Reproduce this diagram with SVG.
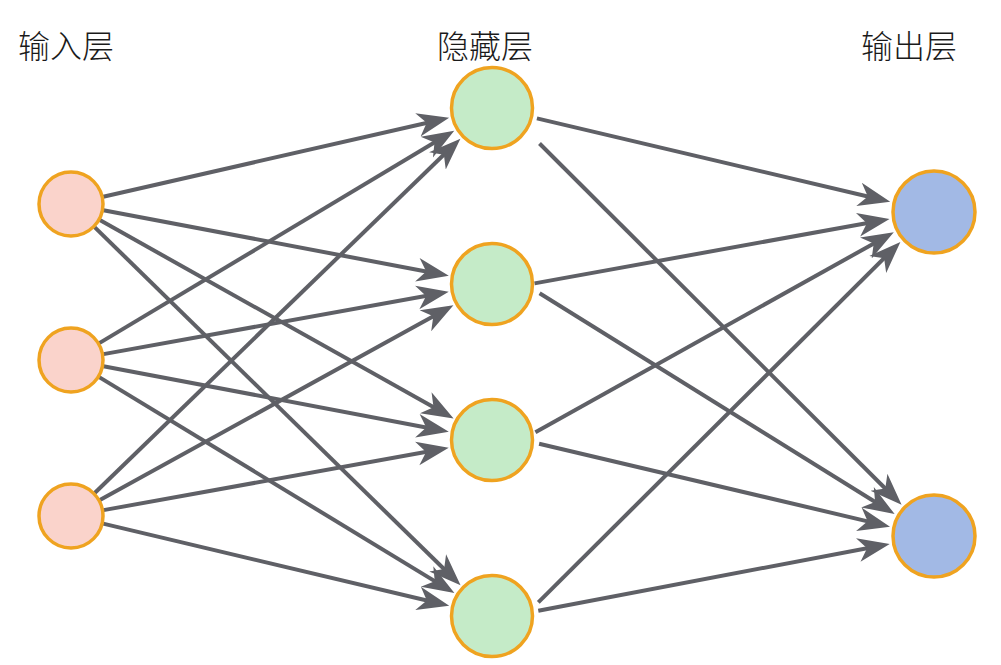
<svg xmlns="http://www.w3.org/2000/svg" width="1001" height="665" viewBox="0 0 1001 665">
<style>
.lbl{font-family:"Noto Sans CJK SC","Noto Sans",sans-serif;font-size:32px;font-weight:300;fill:#1a1a1a;}
.n{stroke:#EFA320;stroke-width:3.5;}
.in{fill:#FAD3CB;}
.hid{fill:#C5EBC8;}
.out{fill:#A2B9E5;}
.e{stroke:#5f6066;stroke-width:4;fill:none;marker-end:url(#ah);}
</style>
<defs>
<marker id="ah" markerUnits="userSpaceOnUse" viewBox="0 -13 34 26" markerWidth="34" markerHeight="26" refX="21" refY="0" orient="auto">
<path d="M0,-12 L32,0 L0,12 L9,0 Z" fill="#5f6066"/>
</marker>
</defs>
<rect width="1001" height="665" fill="#ffffff"/>
<g id="labels">
<text class="lbl" x="18" y="58">输入层</text>
<text class="lbl" x="437" y="58">隐藏层</text>
<text class="lbl" x="861" y="58">输出层</text>
</g>
<g id="connectors">
<line class="e" x1="103.2" y1="196.7" x2="438.4" y2="120.2"/>
<line class="e" x1="103.4" y1="210.2" x2="438.0" y2="273.7"/>
<line class="e" x1="99.8" y1="220.1" x2="444.0" y2="413.1"/>
<line class="e" x1="94.6" y1="227.1" x2="452.7" y2="577.5"/>
<line class="e" x1="99.3" y1="343.1" x2="444.8" y2="136.3"/>
<line class="e" x1="103.5" y1="354.1" x2="437.9" y2="293.8"/>
<line class="e" x1="103.4" y1="366.2" x2="438.0" y2="429.7"/>
<line class="e" x1="99.2" y1="377.1" x2="445.0" y2="587.4"/>
<line class="e" x1="94.7" y1="493.0" x2="452.5" y2="146.3"/>
<line class="e" x1="99.9" y1="500.1" x2="443.8" y2="310.5"/>
<line class="e" x1="103.5" y1="510.1" x2="437.9" y2="449.8"/>
<line class="e" x1="103.1" y1="523.6" x2="438.5" y2="603.3"/>
<line class="e" x1="536.9" y1="118.4" x2="879.5" y2="199.2"/>
<line class="e" x1="539.5" y1="143.5" x2="893.8" y2="497.0"/>
<line class="e" x1="534.5" y1="283.4" x2="878.7" y2="221.0"/>
<line class="e" x1="539.6" y1="293.3" x2="885.3" y2="508.3"/>
<line class="e" x1="535.4" y1="432.2" x2="884.2" y2="237.7"/>
<line class="e" x1="539.1" y1="443.7" x2="879.3" y2="524.1"/>
<line class="e" x1="538.3" y1="602.3" x2="892.6" y2="249.7"/>
<line class="e" x1="538.3" y1="610.7" x2="878.9" y2="546.0"/>
</g>
<g id="input1"><circle class="n in" cx="71" cy="204" r="32"/></g>
<g id="input2"><circle class="n in" cx="71" cy="360" r="32"/></g>
<g id="input3"><circle class="n in" cx="71" cy="516" r="32"/></g>
<g id="hidden1"><circle class="n hid" cx="492" cy="108" r="40.5"/></g>
<g id="hidden2"><circle class="n hid" cx="492" cy="284" r="40.5"/></g>
<g id="hidden3"><circle class="n hid" cx="492" cy="440" r="40.5"/></g>
<g id="hidden4"><circle class="n hid" cx="492" cy="616" r="40.5"/></g>
<g id="output1"><circle class="n out" cx="934" cy="212" r="41"/></g>
<g id="output2"><circle class="n out" cx="934" cy="536" r="41"/></g>
</svg>
